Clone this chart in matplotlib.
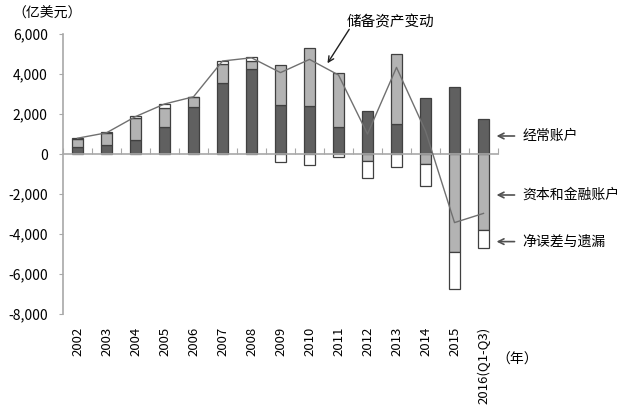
import numpy as np
import matplotlib
matplotlib.use('Agg')
import matplotlib.pyplot as plt
from matplotlib import transforms

plt.rcParams['font.family'] = ['Noto Sans CJK SC', 'DejaVu Sans']

years = ['2002','2003','2004','2005','2006','2007','2008','2009','2010',
         '2011','2012','2013','2014','2015','2016(Q1-Q3)']
# 亿美元
current = np.array([350, 450, 700, 1330, 2330, 3530, 4230, 2430, 2380, 1360, 2150, 1480, 2780, 3330, 1750])
capital = np.array([380, 580, 1080, 950, 500, 950, 420, 2020, 2900, 2670, -350, 3500, -520, -4880, -3800])
errors = np.array([50, 50, 130, 230, 30, 150, 180, -420, -530, -130, -870, -630, -1080, -1880, -920])
reserves = np.array([790, 1060, 1870, 2500, 2860, 4650, 4810, 4070, 4730, 3950, 1000, 4330, 1150, -3430, -2970])

x = np.arange(len(years))
w = 0.4

ka_bottom = np.where(capital > 0, current, 0)
err_bottom = np.where(errors > 0, current + np.maximum(capital, 0), np.minimum(capital, 0))

fig = plt.figure(figsize=(6.27, 4.08), dpi=100)
ax = fig.add_axes([63/627, 1-314/408, (498-63)/627, 280/408])

ec = '#404040'
ax.bar(x, current, w, color='#606060', edgecolor=ec, linewidth=0.9, zorder=2)
ax.bar(x, capital, w, bottom=ka_bottom, color='#b3b3b3', edgecolor=ec, linewidth=0.9, zorder=2)
ax.bar(x, errors, w, bottom=err_bottom, color='white', edgecolor=ec, linewidth=0.9, zorder=2)
ax.plot(x, reserves, color='#707070', linewidth=1, zorder=3)

ax.set_xlim(-0.48, 14.45)
ax.set_ylim(-8000, 6000)
ax.set_yticks(np.arange(-8000, 6001, 2000))
ax.set_yticklabels(['{:,}'.format(v) for v in range(-8000, 6001, 2000)], fontsize=10)

gray = '#a8a8a8'
for s in ['top', 'right']:
    ax.spines[s].set_visible(False)
ax.spines['left'].set_color(gray)
ax.spines['bottom'].set_color(gray)
ax.spines['bottom'].set_position(('data', 0))
ax.spines['left'].set_linewidth(1.2)
ax.spines['bottom'].set_linewidth(1.2)
ax.tick_params(axis='y', direction='out', length=3, color=gray, pad=8)
ax.set_xticks(np.arange(-0.5, len(years)))
ax.set_xticklabels([])
ax.tick_params(axis='x', direction='in', length=4, color=gray)

trans = transforms.blended_transform_factory(ax.transData, ax.transAxes)
for i, lab in enumerate(years):
    ax.text(i, -0.045, lab, transform=trans, rotation=90, ha='center', va='top', fontsize=9.5)

fig.text(12/627, 1-14/408, '（亿美元）', fontsize=10, va='center', ha='left')
fig.text(517/627, 1-360/408, '（年）', fontsize=10, va='center', ha='center')

arr = dict(arrowstyle='->', color='#202020', lw=1, shrinkA=0, shrinkB=0)
ax.annotate('', xy=(8.62, 4535), xytext=(9.37, 6235), arrowprops=arr, annotation_clip=False)
ax.text(10.78, 6600, '储备资产变动', ha='center', va='center', fontsize=10.5)

arr2 = dict(arrowstyle='->', color='#505050', lw=1.2, shrinkA=0, shrinkB=0)
for lab, yv in [('经常账户', 900), ('资本和金融账户', -2050), ('净误差与遗漏', -4380)]:
    ax.annotate('', xy=(14.45, yv), xytext=(15.07, yv), arrowprops=arr2, annotation_clip=False)
    ax.text(15.35, yv, lab, ha='left', va='center', fontsize=10, clip_on=False)

fig.savefig('out.png', dpi=100)
